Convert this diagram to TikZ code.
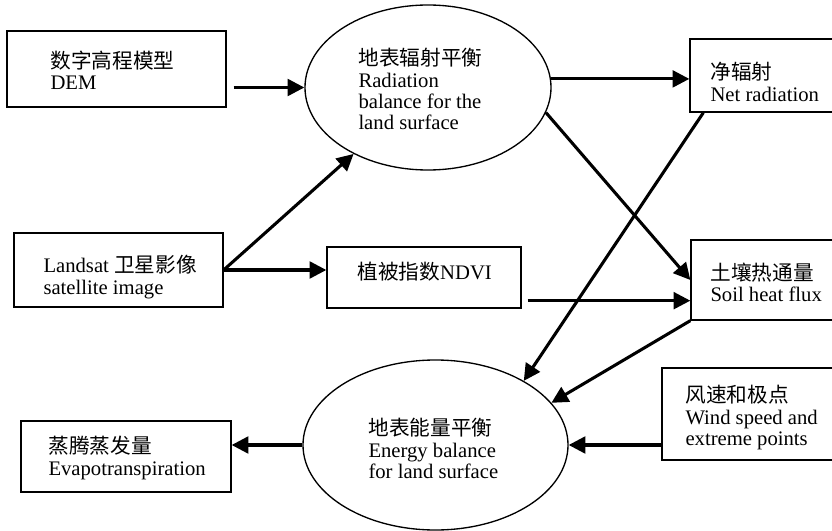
\documentclass[tikz,border=0pt]{standalone}
\usepackage{fontspec}
\setmainfont{Liberation Serif}
\newfontfamily\cjk{Noto Sans CJK SC}
\usetikzlibrary{shapes.geometric,arrows.meta,calc}

\tikzset{every picture/.style={line width=0.75pt}}
\tikzset{box/.style={draw, line width=1pt, rectangle, inner sep=0pt},
  oval/.style={draw, line width=1pt, ellipse, inner sep=0pt},
  txt/.style={anchor=north west, inner sep=0pt, align=left, font=\fontsize{15.5}{16}\selectfont},
  flow/.style={line width=2.3pt, -{Triangle[length=12.5pt,width=12.5pt]}}}

\begin{document}
\begin{tikzpicture}[x=0.75pt,y=0.75pt,yscale=-1,xscale=1]
\useasboundingbox (0,0) rectangle (832,531);

%Shape: Rectangle [dem]
\node [box, minimum width=164.25pt, minimum height=57pt] (dem) at (116.5,69) {};
%Shape: Ellipse [rad]
\node [oval, minimum width=184.5pt, minimum height=123.75pt] (rad) at (428,87.5) {};
%Shape: Rectangle [net]
\node [box, minimum width=117pt, minimum height=54.75pt] (net) at (768,75.5) {};
%Shape: Rectangle [landsat]
\node [box, minimum width=156.75pt, minimum height=55.5pt] (landsat) at (118.5,270) {};
%Shape: Rectangle [ndvi]
\node [box, minimum width=145.5pt, minimum height=45.75pt] (ndvi) at (424,277.5) {};
%Shape: Rectangle [soil]
\node [box, minimum width=116.25pt, minimum height=60pt] (soil) at (768.5,280) {};
%Shape: Rectangle [wind]
\node [box, minimum width=138pt, minimum height=69pt] (wind) at (754,414) {};
%Shape: Ellipse [energy]
\node [oval, minimum width=198.75pt, minimum height=127.5pt] (energy) at (435.5,445) {};
%Shape: Rectangle [evap]
\node [box, minimum width=157.5pt, minimum height=53.25pt] (evap) at (126,456.5) {};

%Straight Lines
\draw [flow] ($(dem.east |- rad.west)+(7,0)$) -- (rad.west);
\draw [flow] (rad.4) -- (rad.4 -| net.west);
\draw [flow] (landsat.east) -- (rad);
\draw [flow] (landsat.east) -- (landsat.east -| ndvi.west);
\coordinate (ndviout) at ($(ndvi.south east)+(6,-8)$);
\draw [flow] (ndviout) -- (ndviout -| soil.west);
\draw [flow] (rad.-12) -- (soil.west);
\coordinate (netout) at ($(net.south west)+(14,0)$);
\draw [flow] (netout) -- (energy.36);
\draw [flow] (soil.south west) -- (energy.20);
\draw [flow] (wind.west |- energy.east) -- (energy.east);
\draw [flow] (energy.west) -- (energy.west -| evap.east);

% Text Node
\node [txt] (t-dem) at (50,50) {{\cjk 数字高程模型}\\DEM};
% Text Node
\node [txt] (t-rad) at (358,48) {{\cjk 地表辐射平衡}\\Radiation\\balance for the\\land surface};
% Text Node
\node [txt] (t-net) at (710,62) {{\cjk 净辐射}\\Net radiation};
% Text Node
\node [txt] (t-landsat) at (43,255) {Landsat {\cjk 卫星影像}\\satellite image};
% Text Node
\node [txt] (t-ndvi) at (357,262) {{\cjk 植被指数}NDVI};
% Text Node
\node [txt] (t-soil) at (710,262) {{\cjk 土壤热通量}\\Soil heat flux};
% Text Node
\node [txt] (t-wind) at (685,385) {{\cjk 风速和极点}\\Wind speed and\\extreme points};
% Text Node
\node [txt] (t-energy) at (368,418) {{\cjk 地表能量平衡}\\Energy balance\\for land surface};
% Text Node
\node [txt] (t-evap) at (48,436) {{\cjk 蒸腾蒸发量}\\Evapotranspiration};

\end{tikzpicture}
\end{document}
